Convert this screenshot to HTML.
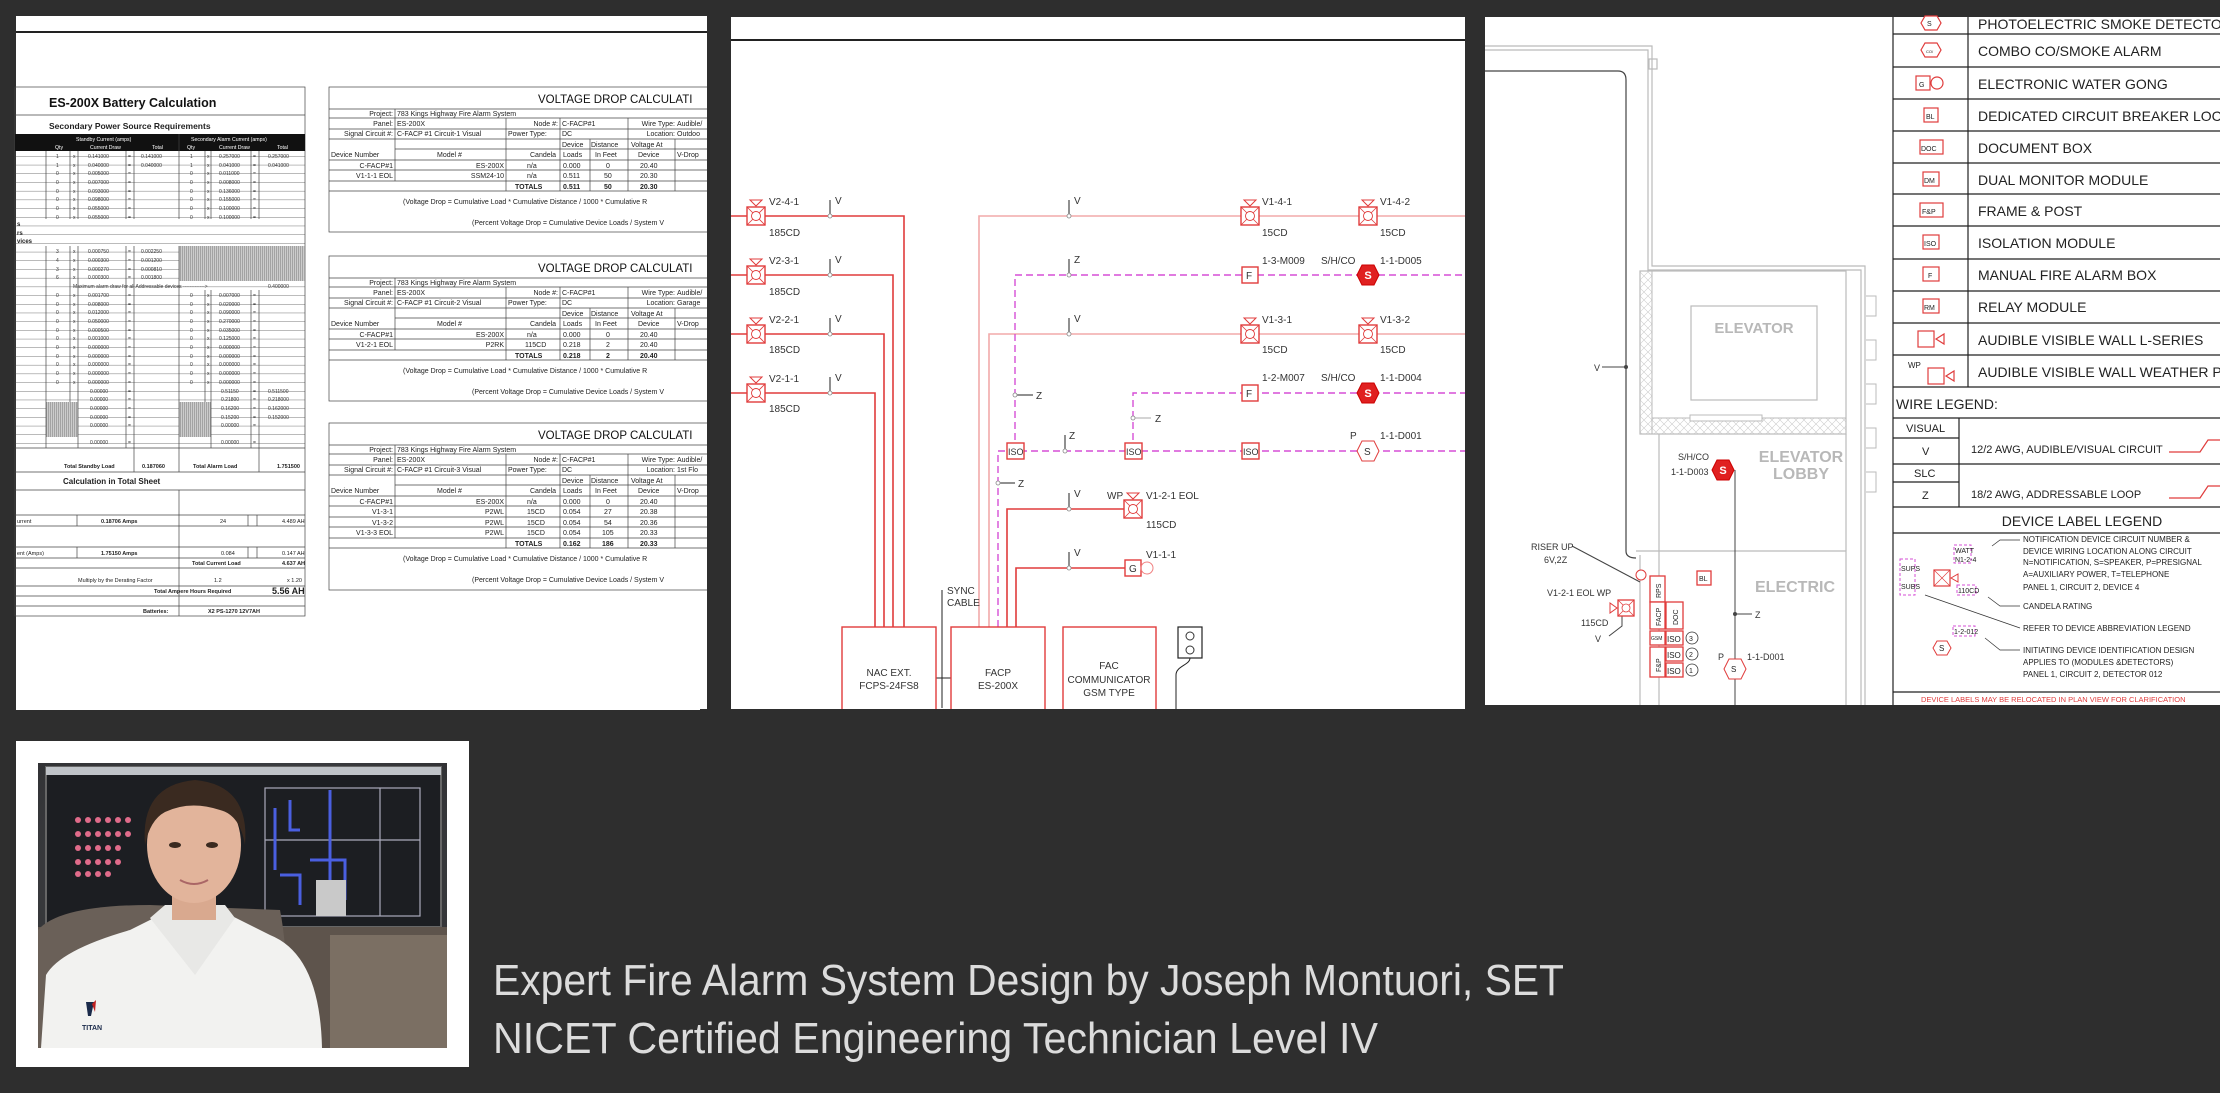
<!DOCTYPE html>
<html><head><meta charset="utf-8"><style>
html,body{margin:0;padding:0;background:#2e2e2e;}
svg{display:block;font-family:"Liberation Sans",sans-serif;}
</style></head><body>
<svg width="2220" height="1093" viewBox="0 0 2220 1093" xmlns="http://www.w3.org/2000/svg">
<defs>
<symbol id="horn" overflow="visible">
 <rect x="-9" y="-9" width="18" height="18" fill="#fff" stroke="#e03c3c" stroke-width="1.4"/>
 <line x1="-9" y1="-9" x2="9" y2="9" stroke="#e03c3c" stroke-width="0.8"/>
 <line x1="9" y1="-9" x2="-9" y2="9" stroke="#e03c3c" stroke-width="0.8"/>
 <circle r="4.5" fill="#fff" stroke="#e03c3c" stroke-width="0.9"/>
 <path d="M-6,-16 L6,-16 L0,-10 Z" fill="none" stroke="#e03c3c" stroke-width="1"/>
</symbol>
<symbol id="smk" overflow="visible">
 <path d="M-11,0 L-6,-10 L6,-10 L11,0 L6,10 L-6,10 Z" fill="#e02020" stroke="#c00" stroke-width="1"/>
 <text x="0" y="4" font-size="11" fill="#fff" text-anchor="middle" font-weight="bold">S</text>
</symbol>
<pattern id="hatch" width="2" height="4" patternUnits="userSpaceOnUse"><rect width="2" height="4" fill="#ccc"/><line x1="0.5" y1="0" x2="0.5" y2="4" stroke="#888" stroke-width="0.6"/></pattern>
<pattern id="xh" width="8" height="8" patternUnits="userSpaceOnUse"><path d="M0,0 L8,8 M8,0 L0,8" stroke="#ccc" stroke-width="0.6"/></pattern>
<pattern id="rows" width="300" height="8.7" patternUnits="userSpaceOnUse"><line x1="0" y1="8.7" x2="300" y2="8.7" stroke="#444" stroke-width="0.7"/></pattern>
<radialGradient id="bg" cx="0.5" cy="0.4" r="0.8"><stop offset="0" stop-color="#4a4d52"/><stop offset="1" stop-color="#2b2b2d"/></radialGradient>
</defs>

<rect width="2220" height="1093" fill="#2e2e2e"/>

<!-- ================= PANEL 1 ================= -->
<rect x="16" y="16" width="691" height="694" fill="#fff"/>
<line x1="16" y1="32" x2="707" y2="32" stroke="#222" stroke-width="2"/>

<g stroke="#444" stroke-width="0.7" fill="none">
 <rect x="15" y="87" width="290" height="529"/>
 <line x1="15" y1="115" x2="305" y2="115"/>
</g>
<text x="49" y="107" font-size="12.5" font-weight="bold" fill="#111">ES-200X Battery Calculation</text>
<text x="49" y="129" font-size="8.5" font-weight="bold" fill="#222">Secondary Power Source Requirements</text>
<rect x="15" y="134" width="290" height="17" fill="#111"/>
<g font-size="5.2" fill="#fff">
 <text x="76" y="141">Standby Current (amps)</text><text x="191" y="141">Secondary Alarm Current (amps)</text>
 <text x="55" y="149">Qty</text><text x="90" y="149">Current Draw</text><text x="152" y="149">Total</text>
 <text x="187" y="149">Qty</text><text x="219" y="149">Current Draw</text><text x="277" y="149">Total</text>
</g>
<rect x="15" y="151" width="290" height="297" fill="url(#rows)"/>
<rect x="179" y="246" width="126" height="35" fill="url(#hatch)"/>
<rect x="46" y="402" width="32" height="35" fill="url(#hatch)"/>
<rect x="179" y="402" width="32" height="35" fill="url(#hatch)"/>
<g stroke="#444" stroke-width="0.7">
 <line x1="46" y1="151" x2="46" y2="219"/><line x1="70" y1="151" x2="70" y2="219"/><line x1="78" y1="151" x2="78" y2="219"/><line x1="126" y1="151" x2="126" y2="219"/><line x1="134" y1="151" x2="134" y2="219"/><line x1="179" y1="134" x2="179" y2="219"/><line x1="205" y1="151" x2="205" y2="219"/><line x1="211" y1="151" x2="211" y2="219"/><line x1="251" y1="151" x2="251" y2="219"/><line x1="259" y1="151" x2="259" y2="219"/>
 <line x1="46" y1="246" x2="46" y2="448"/><line x1="70" y1="246" x2="70" y2="402"/><line x1="78" y1="246" x2="78" y2="448"/><line x1="126" y1="246" x2="126" y2="448"/><line x1="134" y1="246" x2="134" y2="448"/><line x1="179" y1="246" x2="179" y2="448"/><line x1="205" y1="290" x2="205" y2="402"/><line x1="211" y1="290" x2="211" y2="448"/><line x1="251" y1="290" x2="251" y2="448"/><line x1="259" y1="290" x2="259" y2="448"/>
</g>
<g font-size="5" fill="#333">
 <text x="56" y="158">1</text><text x="73" y="158">x</text><text x="88" y="158">0.141000</text><text x="128" y="158">=</text><text x="141" y="158">0.141000</text><text x="190" y="158">1</text><text x="207" y="158">x</text><text x="219" y="158">0.257000</text><text x="253" y="158">=</text><text x="268" y="158">0.257000</text>
 <text x="56" y="167">1</text><text x="73" y="167">x</text><text x="88" y="167">0.040000</text><text x="128" y="167">=</text><text x="141" y="167">0.040000</text><text x="190" y="167">1</text><text x="207" y="167">x</text><text x="219" y="167">0.041000</text><text x="253" y="167">=</text><text x="268" y="167">0.041000</text>
 <text x="56" y="175">0</text><text x="73" y="175">x</text><text x="88" y="175">0.005000</text><text x="128" y="175">=</text><text x="190" y="175">0</text><text x="207" y="175">x</text><text x="219" y="175">0.011000</text><text x="253" y="175">=</text>
 <text x="56" y="184">0</text><text x="73" y="184">x</text><text x="88" y="184">0.007000</text><text x="128" y="184">=</text><text x="190" y="184">0</text><text x="207" y="184">x</text><text x="219" y="184">0.008000</text><text x="253" y="184">=</text>
 <text x="56" y="193">0</text><text x="73" y="193">x</text><text x="88" y="193">0.093000</text><text x="128" y="193">=</text><text x="190" y="193">0</text><text x="207" y="193">x</text><text x="219" y="193">0.136000</text><text x="253" y="193">=</text>
 <text x="56" y="201">0</text><text x="73" y="201">x</text><text x="88" y="201">0.098000</text><text x="128" y="201">=</text><text x="190" y="201">0</text><text x="207" y="201">x</text><text x="219" y="201">0.155000</text><text x="253" y="201">=</text>
 <text x="56" y="210">0</text><text x="73" y="210">x</text><text x="88" y="210">0.055000</text><text x="128" y="210">=</text><text x="190" y="210">0</text><text x="207" y="210">x</text><text x="219" y="210">0.100000</text><text x="253" y="210">=</text>
 <text x="56" y="219">0</text><text x="73" y="219">x</text><text x="88" y="219">0.055000</text><text x="128" y="219">=</text><text x="190" y="219">0</text><text x="207" y="219">x</text><text x="219" y="219">0.100000</text><text x="253" y="219">=</text>
 <text x="56" y="253">3</text><text x="73" y="253">x</text><text x="88" y="253">0.000750</text><text x="128" y="253">=</text><text x="141" y="253">0.002250</text>
 <text x="56" y="262">4</text><text x="73" y="262">x</text><text x="88" y="262">0.000300</text><text x="128" y="262">=</text><text x="141" y="262">0.001200</text>
 <text x="56" y="271">3</text><text x="73" y="271">x</text><text x="88" y="271">0.000270</text><text x="128" y="271">=</text><text x="141" y="271">0.000810</text>
 <text x="56" y="279">6</text><text x="73" y="279">x</text><text x="88" y="279">0.000300</text><text x="128" y="279">=</text><text x="141" y="279">0.001800</text>
 <text x="73" y="288">Maximum alarm draw for all Addressable devices -------------&gt;</text><text x="268" y="288">0.400000</text>
</g>
<g font-size="5" fill="#333">
 <text x="56" y="297">0</text><text x="73" y="297">x</text><text x="88" y="297">0.001700</text><text x="128" y="297">=</text><text x="190" y="297">0</text><text x="207" y="297">x</text><text x="219" y="297">0.007000</text><text x="253" y="297">=</text>
 <text x="56" y="306">0</text><text x="73" y="306">x</text><text x="88" y="306">0.008000</text><text x="128" y="306">=</text><text x="190" y="306">0</text><text x="207" y="306">x</text><text x="219" y="306">0.020000</text><text x="253" y="306">=</text>
 <text x="56" y="314">0</text><text x="73" y="314">x</text><text x="88" y="314">0.012000</text><text x="128" y="314">=</text><text x="190" y="314">0</text><text x="207" y="314">x</text><text x="219" y="314">0.090000</text><text x="253" y="314">=</text>
 <text x="56" y="323">0</text><text x="73" y="323">x</text><text x="88" y="323">0.050000</text><text x="128" y="323">=</text><text x="190" y="323">0</text><text x="207" y="323">x</text><text x="219" y="323">0.270000</text><text x="253" y="323">=</text>
 <text x="56" y="332">0</text><text x="73" y="332">x</text><text x="88" y="332">0.000500</text><text x="128" y="332">=</text><text x="190" y="332">0</text><text x="207" y="332">x</text><text x="219" y="332">0.035000</text><text x="253" y="332">=</text>
 <text x="56" y="340">0</text><text x="73" y="340">x</text><text x="88" y="340">0.001000</text><text x="128" y="340">=</text><text x="190" y="340">0</text><text x="207" y="340">x</text><text x="219" y="340">0.125000</text><text x="253" y="340">=</text>
 <text x="56" y="349">0</text><text x="73" y="349">x</text><text x="88" y="349">0.000000</text><text x="128" y="349">=</text><text x="190" y="349">0</text><text x="207" y="349">x</text><text x="219" y="349">0.000000</text><text x="253" y="349">=</text>
 <text x="56" y="358">0</text><text x="73" y="358">x</text><text x="88" y="358">0.000000</text><text x="128" y="358">=</text><text x="190" y="358">0</text><text x="207" y="358">x</text><text x="219" y="358">0.000000</text><text x="253" y="358">=</text>
 <text x="56" y="366">0</text><text x="73" y="366">x</text><text x="88" y="366">0.000000</text><text x="128" y="366">=</text><text x="190" y="366">0</text><text x="207" y="366">x</text><text x="219" y="366">0.000000</text><text x="253" y="366">=</text>
 <text x="56" y="375">0</text><text x="73" y="375">x</text><text x="88" y="375">0.000000</text><text x="128" y="375">=</text><text x="190" y="375">0</text><text x="207" y="375">x</text><text x="219" y="375">0.000000</text><text x="253" y="375">=</text>
 <text x="56" y="384">0</text><text x="73" y="384">x</text><text x="88" y="384">0.000000</text><text x="128" y="384">=</text><text x="190" y="384">0</text><text x="207" y="384">x</text><text x="219" y="384">0.000000</text><text x="253" y="384">=</text>
 <text x="90" y="393">0.00000</text><text x="128" y="393">=</text><text x="221" y="393">0.51150</text><text x="253" y="393">=</text><text x="268" y="393">0.511500</text>
 <text x="90" y="401">0.00000</text><text x="128" y="401">=</text><text x="221" y="401">0.21800</text><text x="253" y="401">=</text><text x="268" y="401">0.218000</text>
 <text x="90" y="410">0.00000</text><text x="128" y="410">=</text><text x="221" y="410">0.16200</text><text x="253" y="410">=</text><text x="268" y="410">0.162000</text>
 <text x="90" y="419">0.00000</text><text x="128" y="419">=</text><text x="221" y="419">0.15200</text><text x="253" y="419">=</text><text x="268" y="419">0.152000</text>
 <text x="90" y="427">0.00000</text><text x="128" y="427">=</text><text x="221" y="427">0.00000</text><text x="253" y="427">=</text>
 <text x="90" y="444">0.00000</text><text x="128" y="444">=</text><text x="221" y="444">0.00000</text><text x="253" y="444">=</text>
</g>
<g font-size="6" font-weight="bold" fill="#222">
 <text x="17" y="226">s</text><text x="17" y="235">rs</text><text x="17" y="243">vices</text>
</g>
<g stroke="#444" stroke-width="0.7">
 <line x1="15" y1="448" x2="305" y2="448"/><line x1="15" y1="472" x2="305" y2="472"/>
 <line x1="134" y1="448" x2="134" y2="472"/><line x1="179" y1="448" x2="179" y2="472"/><line x1="259" y1="448" x2="259" y2="472"/>
 <line x1="15" y1="490" x2="305" y2="490"/><line x1="179" y1="490" x2="179" y2="616"/>
 <line x1="15" y1="515" x2="305" y2="515"/><line x1="15" y1="526" x2="305" y2="526"/>
 <line x1="77" y1="515" x2="77" y2="526"/><line x1="248" y1="515" x2="248" y2="526"/><line x1="257" y1="515" x2="257" y2="526"/>
 <line x1="15" y1="547" x2="305" y2="547"/><line x1="15" y1="558" x2="305" y2="558"/>
 <line x1="77" y1="547" x2="77" y2="558"/><line x1="248" y1="547" x2="248" y2="558"/><line x1="257" y1="547" x2="257" y2="558"/>
 <line x1="15" y1="568" x2="305" y2="568"/><line x1="15" y1="586" x2="305" y2="586"/><line x1="15" y1="596" x2="305" y2="596"/><line x1="15" y1="606" x2="305" y2="606"/>
</g>
<g font-size="5.5" fill="#222" font-weight="bold">
 <text x="64" y="468">Total Standby Load</text><text x="142" y="468">0.187060</text><text x="193" y="468">Total Alarm Load</text><text x="277" y="468">1.751500</text>
 <text x="101" y="523">0.18706 Amps</text><text x="220" y="523" font-weight="normal">24</text><text x="282" y="523" font-weight="normal">4.489 AH</text>
 <text x="17" y="523" font-weight="normal">urrent</text><text x="17" y="555" font-weight="normal">ent (Amps)</text>
 <text x="101" y="555">1.75150 Amps</text><text x="221" y="555" font-weight="normal">0.084</text><text x="282" y="555" font-weight="normal">0.147 AH</text>
 <text x="192" y="565">Total Current Load</text><text x="282" y="565">4.637 AH</text>
 <text x="78" y="582" font-weight="normal">Multiply by the Derating Factor</text><text x="214" y="582" font-weight="normal">1.2</text><text x="287" y="582" font-weight="normal">x 1.20</text>
 <text x="154" y="593">Total Ampere Hours Required</text><text x="272" y="594" font-size="9">5.56 AH</text>
 <text x="143" y="613">Batteries:</text><text x="208" y="613">X2 PS-1270 12V7AH</text>
</g>
<text x="63" y="484" font-size="8" font-weight="bold" fill="#222">Calculation in Total Sheet</text>

<g>
 <g stroke="#444" stroke-width="0.7" fill="none">
  <rect x="329" y="87" width="390" height="145"/>
  <line x1="329" y1="109" x2="707" y2="109"/><line x1="329" y1="118" x2="707" y2="118"/><line x1="329" y1="129" x2="707" y2="129"/><line x1="329" y1="139" x2="707" y2="139"/><line x1="395" y1="149" x2="707" y2="149"/><line x1="329" y1="160" x2="707" y2="160"/><line x1="329" y1="170" x2="707" y2="170"/><line x1="329" y1="181" x2="707" y2="181"/><line x1="329" y1="191" x2="707" y2="191"/>
  <line x1="395" y1="109" x2="395" y2="181"/><line x1="506" y1="118" x2="506" y2="191"/><line x1="560" y1="118" x2="560" y2="191"/><line x1="590" y1="139" x2="590" y2="191"/><line x1="628" y1="118" x2="628" y2="191"/><line x1="675" y1="139" x2="675" y2="191"/>
 </g>
 <text x="538" y="103" font-size="11.5" fill="#111">VOLTAGE DROP CALCULATI</text>
 <g font-size="7" fill="#222">
  <text x="393" y="116" text-anchor="end">Project:</text><text x="397" y="116">783 Kings Highway Fire Alarm System</text>
  <text x="393" y="126" text-anchor="end">Panel:</text><text x="397" y="126">ES-200X</text><text x="558" y="126" text-anchor="end">Node #:</text><text x="562" y="126">C-FACP#1</text><text x="675" y="126" text-anchor="end">Wire Type:</text><text x="677" y="126">Audible/</text>
  <text x="393" y="136" text-anchor="end">Signal Circuit #:</text><text x="397" y="136">C-FACP #1 Circuit-1 Visual</text><text x="508" y="136">Power Type:</text><text x="562" y="136">DC</text><text x="675" y="136" text-anchor="end">Location:</text><text x="677" y="136">Outdoo</text>
  <text x="562" y="147">Device</text><text x="591" y="147">Distance</text><text x="631" y="147">Voltage At</text>
  <text x="331" y="157">Device Number</text><text x="437" y="157">Model #</text><text x="530" y="157">Candela</text><text x="563" y="157">Loads</text><text x="595" y="157">In Feet</text><text x="638" y="157">Device</text><text x="677" y="157">V-Drop</text>
  <text x="393" y="168" text-anchor="end">C-FACP#1</text><text x="504" y="168" text-anchor="end">ES-200X</text><text x="527" y="168">n/a</text><text x="563" y="168">0.000</text><text x="606" y="168">0</text><text x="640" y="168">20.40</text>
  <text x="393" y="178" text-anchor="end">V1-1-1 EOL</text><text x="504" y="178" text-anchor="end">SSM24-10</text><text x="527" y="178">n/a</text><text x="563" y="178">0.511</text><text x="604" y="178">50</text><text x="640" y="178">20.30</text>
  <g font-weight="bold"><text x="515" y="189">TOTALS</text><text x="563" y="189">0.511</text><text x="604" y="189">50</text><text x="640" y="189">20.30</text></g>
  <text x="403" y="204">(Voltage Drop = Cumulative Load * Cumulative Distance / 1000 * Cumulative R</text>
  <text x="472" y="225">(Percent Voltage Drop = Cumulative Device Loads / System V</text>
 </g>
</g>
<g transform="translate(0,169)">
 <g stroke="#444" stroke-width="0.7" fill="none">
  <rect x="329" y="87" width="390" height="145"/>
  <line x1="329" y1="109" x2="707" y2="109"/><line x1="329" y1="118" x2="707" y2="118"/><line x1="329" y1="129" x2="707" y2="129"/><line x1="329" y1="139" x2="707" y2="139"/><line x1="395" y1="149" x2="707" y2="149"/><line x1="329" y1="160" x2="707" y2="160"/><line x1="329" y1="170" x2="707" y2="170"/><line x1="329" y1="181" x2="707" y2="181"/><line x1="329" y1="191" x2="707" y2="191"/>
  <line x1="395" y1="109" x2="395" y2="181"/><line x1="506" y1="118" x2="506" y2="191"/><line x1="560" y1="118" x2="560" y2="191"/><line x1="590" y1="139" x2="590" y2="191"/><line x1="628" y1="118" x2="628" y2="191"/><line x1="675" y1="139" x2="675" y2="191"/>
 </g>
 <text x="538" y="103" font-size="11.5" fill="#111">VOLTAGE DROP CALCULATI</text>
 <g font-size="7" fill="#222">
  <text x="393" y="116" text-anchor="end">Project:</text><text x="397" y="116">783 Kings Highway Fire Alarm System</text>
  <text x="393" y="126" text-anchor="end">Panel:</text><text x="397" y="126">ES-200X</text><text x="558" y="126" text-anchor="end">Node #:</text><text x="562" y="126">C-FACP#1</text><text x="675" y="126" text-anchor="end">Wire Type:</text><text x="677" y="126">Audible/</text>
  <text x="393" y="136" text-anchor="end">Signal Circuit #:</text><text x="397" y="136">C-FACP #1 Circuit-2 Visual</text><text x="508" y="136">Power Type:</text><text x="562" y="136">DC</text><text x="675" y="136" text-anchor="end">Location:</text><text x="677" y="136">Garage</text>
  <text x="562" y="147">Device</text><text x="591" y="147">Distance</text><text x="631" y="147">Voltage At</text>
  <text x="331" y="157">Device Number</text><text x="437" y="157">Model #</text><text x="530" y="157">Candela</text><text x="563" y="157">Loads</text><text x="595" y="157">In Feet</text><text x="638" y="157">Device</text><text x="677" y="157">V-Drop</text>
  <text x="393" y="168" text-anchor="end">C-FACP#1</text><text x="504" y="168" text-anchor="end">ES-200X</text><text x="527" y="168">n/a</text><text x="563" y="168">0.000</text><text x="606" y="168">0</text><text x="640" y="168">20.40</text>
  <text x="393" y="178" text-anchor="end">V1-2-1 EOL</text><text x="504" y="178" text-anchor="end">P2RK</text><text x="525" y="178">115CD</text><text x="563" y="178">0.218</text><text x="606" y="178">2</text><text x="640" y="178">20.40</text>
  <g font-weight="bold"><text x="515" y="189">TOTALS</text><text x="563" y="189">0.218</text><text x="606" y="189">2</text><text x="640" y="189">20.40</text></g>
  <text x="403" y="204">(Voltage Drop = Cumulative Load * Cumulative Distance / 1000 * Cumulative R</text>
  <text x="472" y="225">(Percent Voltage Drop = Cumulative Device Loads / System V</text>
 </g>
</g>
<g transform="translate(0,336)">
 <g stroke="#444" stroke-width="0.7" fill="none">
  <rect x="329" y="87" width="390" height="167"/>
  <line x1="329" y1="109" x2="707" y2="109"/><line x1="329" y1="118" x2="707" y2="118"/><line x1="329" y1="129" x2="707" y2="129"/><line x1="329" y1="139" x2="707" y2="139"/><line x1="395" y1="149" x2="707" y2="149"/><line x1="329" y1="160" x2="707" y2="160"/><line x1="329" y1="170" x2="707" y2="170"/><line x1="329" y1="181" x2="707" y2="181"/><line x1="329" y1="191" x2="707" y2="191"/><line x1="329" y1="202" x2="707" y2="202"/><line x1="329" y1="212" x2="707" y2="212"/>
  <line x1="395" y1="109" x2="395" y2="202"/><line x1="506" y1="118" x2="506" y2="212"/><line x1="560" y1="118" x2="560" y2="212"/><line x1="590" y1="139" x2="590" y2="212"/><line x1="628" y1="118" x2="628" y2="212"/><line x1="675" y1="139" x2="675" y2="212"/>
 </g>
 <text x="538" y="103" font-size="11.5" fill="#111">VOLTAGE DROP CALCULATI</text>
 <g font-size="7" fill="#222">
  <text x="393" y="116" text-anchor="end">Project:</text><text x="397" y="116">783 Kings Highway Fire Alarm System</text>
  <text x="393" y="126" text-anchor="end">Panel:</text><text x="397" y="126">ES-200X</text><text x="558" y="126" text-anchor="end">Node #:</text><text x="562" y="126">C-FACP#1</text><text x="675" y="126" text-anchor="end">Wire Type:</text><text x="677" y="126">Audible/</text>
  <text x="393" y="136" text-anchor="end">Signal Circuit #:</text><text x="397" y="136">C-FACP #1 Circuit-3 Visual</text><text x="508" y="136">Power Type:</text><text x="562" y="136">DC</text><text x="675" y="136" text-anchor="end">Location:</text><text x="677" y="136">1st Flo</text>
  <text x="562" y="147">Device</text><text x="591" y="147">Distance</text><text x="631" y="147">Voltage At</text>
  <text x="331" y="157">Device Number</text><text x="437" y="157">Model #</text><text x="530" y="157">Candela</text><text x="563" y="157">Loads</text><text x="595" y="157">In Feet</text><text x="638" y="157">Device</text><text x="677" y="157">V-Drop</text>
  <text x="393" y="168" text-anchor="end">C-FACP#1</text><text x="504" y="168" text-anchor="end">ES-200X</text><text x="527" y="168">n/a</text><text x="563" y="168">0.000</text><text x="606" y="168">0</text><text x="640" y="168">20.40</text>
  <text x="393" y="178" text-anchor="end">V1-3-1</text><text x="504" y="178" text-anchor="end">P2WL</text><text x="527" y="178">15CD</text><text x="563" y="178">0.054</text><text x="604" y="178">27</text><text x="640" y="178">20.38</text>
  <text x="393" y="189" text-anchor="end">V1-3-2</text><text x="504" y="189" text-anchor="end">P2WL</text><text x="527" y="189">15CD</text><text x="563" y="189">0.054</text><text x="604" y="189">54</text><text x="640" y="189">20.36</text>
  <text x="393" y="199" text-anchor="end">V1-3-3 EOL</text><text x="504" y="199" text-anchor="end">P2WL</text><text x="527" y="199">15CD</text><text x="563" y="199">0.054</text><text x="602" y="199">105</text><text x="640" y="199">20.33</text>
  <g font-weight="bold"><text x="515" y="210">TOTALS</text><text x="563" y="210">0.162</text><text x="602" y="210">186</text><text x="640" y="210">20.33</text></g>
  <text x="403" y="225">(Voltage Drop = Cumulative Load * Cumulative Distance / 1000 * Cumulative R</text>
  <text x="472" y="246">(Percent Voltage Drop = Cumulative Device Loads / System V</text>
 </g>
</g>
<rect x="707" y="16" width="25" height="700" fill="#2e2e2e"/>

<!-- ================= PANEL 2 ================= -->
<rect x="731" y="17" width="734" height="692" fill="#fff"/>
<line x1="731" y1="40" x2="1465" y2="40" stroke="#222" stroke-width="2"/>
<g fill="none" stroke-width="1.6">
 <path d="M731,216 H904 V627" stroke="#e03c3c"/>
 <path d="M731,275 H893 V627" stroke="#e03c3c"/>
 <path d="M731,334 H884 V627" stroke="#e03c3c"/>
 <path d="M731,393 H875 V627" stroke="#e03c3c"/>
 <path d="M979,627 V216 H1465" stroke="#f2aaaa"/>
 <path d="M989,627 V334 H1465" stroke="#f2aaaa"/>
 <path d="M1007,627 V509 H1125" stroke="#e03c3c"/>
 <path d="M1016,627 V568 H1125" stroke="#e03c3c"/>
</g>
<g fill="none" stroke="#d64fd6" stroke-width="1.4" stroke-dasharray="7,4">
 <path d="M1015,451 V275 H1465"/>
 <path d="M1133,451 V393 H1465"/>
 <path d="M998,627 V451 H1465"/>
</g>
<g stroke="#222" stroke-width="1">
 <line x1="830" y1="200" x2="830" y2="216"/><line x1="830" y1="259" x2="830" y2="275"/><line x1="830" y1="318" x2="830" y2="334"/><line x1="830" y1="377" x2="830" y2="393"/>
 <line x1="1069" y1="200" x2="1069" y2="216"/><line x1="1069" y1="259" x2="1069" y2="275"/><line x1="1069" y1="318" x2="1069" y2="334"/>
 <line x1="1065" y1="435" x2="1065" y2="451"/><line x1="1069" y1="493" x2="1069" y2="509"/><line x1="1069" y1="552" x2="1069" y2="568"/>
 <line x1="1015" y1="395" x2="1033" y2="395"/><line x1="998" y1="483" x2="1015" y2="483"/>
 <line x1="942" y1="590" x2="942" y2="708"/><line x1="936" y1="678" x2="951" y2="678"/>
</g>
<line x1="1133" y1="418" x2="1151" y2="418" stroke="#aaa" stroke-width="1"/>
<g fill="#fff" stroke="#888" stroke-width="0.8">
 <circle cx="830" cy="216" r="2"/><circle cx="830" cy="275" r="2"/><circle cx="830" cy="334" r="2"/><circle cx="830" cy="393" r="2"/>
 <circle cx="1069" cy="216" r="2"/><circle cx="1069" cy="275" r="2"/><circle cx="1069" cy="334" r="2"/><circle cx="1065" cy="451" r="2"/><circle cx="1069" cy="509" r="2"/><circle cx="1069" cy="568" r="2"/>
 <circle cx="1015" cy="395" r="2"/><circle cx="1133" cy="418" r="2"/><circle cx="998" cy="483" r="2"/>
</g>
<use href="#horn" x="756" y="216"/><use href="#horn" x="756" y="275"/><use href="#horn" x="756" y="334"/><use href="#horn" x="756" y="393"/>
<use href="#horn" x="1250" y="216"/><use href="#horn" x="1368" y="216"/><use href="#horn" x="1250" y="334"/><use href="#horn" x="1368" y="334"/><use href="#horn" x="1133" y="509"/>
<use href="#smk" x="1368" y="275"/><use href="#smk" x="1368" y="393"/>
<g fill="#fff" stroke="#e03c3c" stroke-width="1.4">
 <rect x="1242" y="267" width="16" height="16"/><rect x="1242" y="385" width="16" height="16"/>
 <rect x="1007" y="443" width="17" height="16"/><rect x="1125" y="443" width="17" height="16"/><rect x="1242" y="443" width="17" height="16"/>
 <rect x="1125" y="560" width="16" height="16"/>
</g>
<circle cx="1147" cy="568" r="6" fill="none" stroke="#f08080" stroke-width="1"/>
<path d="M1357,451 L1362,441 L1374,441 L1379,451 L1374,461 L1362,461 Z" fill="#fff" stroke="#e03c3c" stroke-width="1"/>
<g font-size="10" fill="#333">
 <text x="1246" y="279">F</text><text x="1246" y="397">F</text>
 <text x="1008" y="455" font-size="9">ISO</text><text x="1126" y="455" font-size="9">ISO</text><text x="1243" y="455" font-size="9">ISO</text>
 <text x="1129" y="572">G</text><text x="1364" y="455">S</text>
</g>
<g font-size="10" fill="#333">
 <text x="769" y="205">V2-4-1</text><text x="769" y="236">185CD</text>
 <text x="769" y="264">V2-3-1</text><text x="769" y="295">185CD</text>
 <text x="769" y="323">V2-2-1</text><text x="769" y="353">185CD</text>
 <text x="769" y="382">V2-1-1</text><text x="769" y="412">185CD</text>
 <text x="835" y="204">V</text><text x="835" y="263">V</text><text x="835" y="322">V</text><text x="835" y="381">V</text>
 <text x="1074" y="204">V</text><text x="1074" y="263">Z</text><text x="1074" y="322">V</text><text x="1069" y="439">Z</text><text x="1074" y="497">V</text><text x="1074" y="556">V</text>
 <text x="1036" y="399">Z</text><text x="1155" y="422">Z</text><text x="1018" y="487">Z</text>
 <text x="1262" y="205">V1-4-1</text><text x="1262" y="236">15CD</text><text x="1380" y="205">V1-4-2</text><text x="1380" y="236">15CD</text>
 <text x="1262" y="264">1-3-M009</text><text x="1321" y="264">S/H/CO</text><text x="1380" y="264">1-1-D005</text>
 <text x="1262" y="323">V1-3-1</text><text x="1262" y="353">15CD</text><text x="1380" y="323">V1-3-2</text><text x="1380" y="353">15CD</text>
 <text x="1262" y="381">1-2-M007</text><text x="1321" y="381">S/H/CO</text><text x="1380" y="381">1-1-D004</text>
 <text x="1350" y="439">P</text><text x="1380" y="439">1-1-D001</text>
 <text x="1107" y="499">WP</text><text x="1146" y="499">V1-2-1 EOL</text><text x="1146" y="528">115CD</text>
 <text x="1146" y="558">V1-1-1</text>
 <text x="947" y="594">SYNC</text><text x="947" y="606">CABLE</text>
</g>
<g fill="#fff" stroke="#e03c3c" stroke-width="1.4">
 <rect x="842" y="627" width="94" height="90"/><rect x="951" y="627" width="94" height="90"/><rect x="1063" y="627" width="93" height="90"/>
</g>
<g font-size="10" fill="#333" text-anchor="middle">
 <text x="889" y="676">NAC EXT.</text><text x="889" y="689">FCPS-24FS8</text>
 <text x="998" y="676">FACP</text><text x="998" y="689">ES-200X</text>
 <text x="1109" y="669">FAC</text><text x="1109" y="683">COMMUNICATOR</text><text x="1109" y="696">GSM TYPE</text>
</g>
<rect x="1178" y="627" width="24" height="31" fill="#fff" stroke="#222" stroke-width="1.2"/>
<circle cx="1190" cy="636" r="4" fill="none" stroke="#333"/><circle cx="1190" cy="650" r="4" fill="none" stroke="#333"/>
<path d="M1190,658 C1190,665 1176,666 1176,675 V709" fill="none" stroke="#222" stroke-width="1"/>
<rect x="1465" y="16" width="20" height="700" fill="#2e2e2e"/>
<rect x="700" y="709" width="800" height="10" fill="#2e2e2e"/>

<!-- ================= PANEL 3 ================= -->
<rect x="1485" y="17" width="735" height="688" fill="#fff"/>
<g fill="none" stroke="#bbb" stroke-width="1.2">
 <path d="M1485,46 H1652 V266 H1865 V705"/>
 <path d="M1485,50 H1648 V270 H1861 V705"/>
 <rect x="1640" y="271" width="206" height="163"/>
 <rect x="1691" y="306" width="126" height="94"/>
 <path d="M1659,434 V705"/><path d="M1636,551 H1846 V705"/><path d="M1640,555 V705"/>
 <path d="M1846,434 V551"/>
 <rect x="1649" y="59" width="8" height="10"/>
</g>
<rect x="1640" y="271" width="12" height="163" fill="url(#xh)" stroke="#bbb"/>
<rect x="1652" y="418" width="194" height="16" fill="url(#xh)" stroke="#bbb"/>
<rect x="1690" y="415" width="72" height="6" fill="#fff" stroke="#bbb"/>
<g stroke="#bbb" fill="none" stroke-width="1">
 <path d="M1866,296 h10 v20 h-10 M1866,340 h10 v20 h-10 M1866,384 h10 v20 h-10 M1866,428 h10 v20 h-10 M1866,472 h10 v20 h-10"/>
</g>
<path d="M1485,71 H1618 Q1626,71 1626,80 V551 Q1626,558 1636,558" fill="none" stroke="#444" stroke-width="1.2"/>
<g font-weight="bold" fill="#b8b8b8" text-anchor="middle">
 <text x="1754" y="333" font-size="15">ELEVATOR</text>
 <text x="1801" y="462" font-size="16">ELEVATOR</text><text x="1801" y="479" font-size="16">LOBBY</text>
 <text x="1795" y="592" font-size="16">ELECTRIC</text>
</g>
<g stroke="#444" stroke-width="1" fill="none">
 <line x1="1735" y1="470" x2="1735" y2="705"/><line x1="1735" y1="614" x2="1752" y2="614"/>
 <line x1="1602" y1="367" x2="1626" y2="367"/>
 <path d="M1572,546 L1640,582"/><path d="M1609,636 L1622,626 L1622,612"/>
</g>
<circle cx="1626" cy="367" r="2" fill="#444"/><circle cx="1735" cy="614" r="2" fill="#444"/>
<use href="#smk" x="1723" y="470"/>
<circle cx="1641" cy="575" r="5" fill="#fff" stroke="#e03c3c"/>
<g transform="translate(1626,608)"><rect x="-8" y="-8" width="16" height="16" fill="#fff" stroke="#e03c3c" stroke-width="1.3"/><line x1="-8" y1="-8" x2="8" y2="8" stroke="#e03c3c" stroke-width="0.7"/><line x1="8" y1="-8" x2="-8" y2="8" stroke="#e03c3c" stroke-width="0.7"/><circle r="4" fill="#fff" stroke="#e03c3c" stroke-width="0.8"/><path d="M-9,0 L-16,-5 L-16,5 Z" fill="none" stroke="#e03c3c"/></g>
<g fill="#fff" stroke="#e03c3c" stroke-width="1.3">
 <rect x="1650" y="576" width="15" height="26"/><rect x="1650" y="602" width="15" height="27"/><rect x="1666" y="602" width="17" height="27"/>
 <rect x="1650" y="631" width="15" height="14"/><rect x="1666" y="631" width="17" height="14"/><rect x="1666" y="647" width="17" height="14"/><rect x="1666" y="663" width="17" height="14"/>
 <rect x="1650" y="647" width="15" height="30"/><rect x="1697" y="571" width="14" height="14"/>
</g>
<g fill="none" stroke="#333" stroke-width="0.8"><circle cx="1692" cy="638" r="6"/><circle cx="1692" cy="654" r="6"/><circle cx="1692" cy="670" r="6"/></g>
<path d="M1724,669 L1729,659 L1741,659 L1746,669 L1741,679 L1729,679 Z" fill="#fff" stroke="#e03c3c"/>
<g font-size="8" fill="#222">
 <text x="1667" y="642">ISO</text><text x="1667" y="658">ISO</text><text x="1667" y="674">ISO</text><text x="1651" y="640" font-size="5">GSM</text>
 <text x="1689" y="641" font-size="7">3</text><text x="1689" y="657" font-size="7">2</text><text x="1689" y="673" font-size="7">1</text>
 <text x="1699" y="581" font-size="7">BL</text><text x="1731" y="672">S</text>
 <text x="0" y="0" transform="translate(1661,598) rotate(-90)" font-size="7">RPS</text>
 <text x="0" y="0" transform="translate(1661,626) rotate(-90)" font-size="7">FACP</text>
 <text x="0" y="0" transform="translate(1678,625) rotate(-90)" font-size="7">DOC</text>
 <text x="0" y="0" transform="translate(1661,672) rotate(-90)" font-size="7">F&amp;P</text>
</g>
<g font-size="9" fill="#333">
 <text x="1678" y="460">S/H/CO</text><text x="1671" y="475">1-1-D003</text>
 <text x="1531" y="550">RISER UP</text><text x="1544" y="563">6V,2Z</text>
 <text x="1547" y="596">V1-2-1 EOL WP</text><text x="1581" y="626">115CD</text><text x="1595" y="642">V</text>
 <text x="1594" y="371">V</text><text x="1755" y="618">Z</text>
 <text x="1718" y="660">P</text><text x="1747" y="660">1-1-D001</text>
</g>

<rect x="1893" y="17" width="327" height="688" fill="#fff"/>
<g stroke="#222" stroke-width="1.2" fill="none">
 <line x1="1893" y1="17" x2="1893" y2="705"/>
 <line x1="1968" y1="17" x2="1968" y2="387"/>
 <line x1="1893" y1="34" x2="2220" y2="34"/><line x1="1893" y1="67" x2="2220" y2="67"/><line x1="1893" y1="99" x2="2220" y2="99"/><line x1="1893" y1="131" x2="2220" y2="131"/><line x1="1893" y1="163" x2="2220" y2="163"/><line x1="1893" y1="194" x2="2220" y2="194"/><line x1="1893" y1="226" x2="2220" y2="226"/><line x1="1893" y1="259" x2="2220" y2="259"/><line x1="1893" y1="291" x2="2220" y2="291"/><line x1="1893" y1="323" x2="2220" y2="323"/><line x1="1893" y1="355" x2="2220" y2="355"/><line x1="1893" y1="387" x2="2220" y2="387"/>
 <line x1="1893" y1="418" x2="2220" y2="418"/><line x1="1893" y1="438" x2="1959" y2="438"/><line x1="1893" y1="464" x2="2220" y2="464"/><line x1="1893" y1="482" x2="1959" y2="482"/><line x1="1893" y1="507" x2="2220" y2="507"/><line x1="1893" y1="533" x2="2220" y2="533"/><line x1="1893" y1="692" x2="2220" y2="692"/>
 <line x1="1959" y1="418" x2="1959" y2="507"/>
</g>
<g font-size="14" fill="#222">
 <text x="1978" y="29">PHOTOELECTRIC SMOKE DETECTOR</text>
 <text x="1978" y="56">COMBO CO/SMOKE ALARM</text>
 <text x="1978" y="89">ELECTRONIC WATER GONG</text>
 <text x="1978" y="121">DEDICATED CIRCUIT BREAKER LOCK</text>
 <text x="1978" y="153">DOCUMENT BOX</text>
 <text x="1978" y="185">DUAL MONITOR MODULE</text>
 <text x="1978" y="216">FRAME &amp; POST</text>
 <text x="1978" y="248">ISOLATION MODULE</text>
 <text x="1978" y="280">MANUAL FIRE ALARM BOX</text>
 <text x="1978" y="312">RELAY MODULE</text>
 <text x="1978" y="345">AUDIBLE VISIBLE WALL L-SERIES</text>
 <text x="1978" y="377">AUDIBLE VISIBLE WALL WEATHER PR</text>
 <text x="1896" y="409">WIRE LEGEND:</text>
 <text x="2082" y="526" text-anchor="middle">DEVICE LABEL LEGEND</text>
</g>
<g fill="#fff" stroke="#e03c3c" stroke-width="1.2">
 <path d="M1921,23 L1925,16 L1937,16 L1941,23 L1937,30 L1925,30 Z"/>
 <path d="M1921,50 L1925,43 L1937,43 L1941,50 L1937,57 L1925,57 Z"/>
 <rect x="1916" y="76" width="14" height="14"/><circle cx="1937" cy="83" r="6"/>
 <rect x="1924" y="108" width="14" height="14"/><rect x="1920" y="140" width="23" height="14"/><rect x="1923" y="172" width="16" height="14"/><rect x="1920" y="203" width="23" height="14"/>
 <rect x="1923" y="235" width="16" height="14"/><rect x="1923" y="267" width="16" height="14"/><rect x="1923" y="299" width="16" height="14"/>
 <rect x="1918" y="331" width="16" height="16"/><path d="M1936,339 L1944,334 L1944,344 Z"/>
 <rect x="1928" y="368" width="16" height="16"/><path d="M1946,376 L1954,371 L1954,381 Z"/>
</g>
<g font-size="7" fill="#222">
 <text x="1927" y="26">S</text><text x="1926" y="53" font-size="4">CO/</text><text x="1919" y="87">G</text><text x="1926" y="119">BL</text><text x="1921" y="151">DOC</text><text x="1924" y="183">DM</text><text x="1922" y="214">F&amp;P</text><text x="1924" y="246">ISO</text><text x="1928" y="278">F</text><text x="1924" y="310">RM</text>
 <text x="1908" y="368" font-size="8">WP</text>
</g>
<g font-size="11" fill="#222">
 <text x="1906" y="432">VISUAL</text><text x="1922" y="455">V</text><text x="1914" y="477">SLC</text><text x="1922" y="499">Z</text>
 <text x="1971" y="453">12/2 AWG, AUDIBLE/VISUAL CIRCUIT</text>
 <text x="1971" y="498">18/2 AWG, ADDRESSABLE LOOP</text>
</g>
<path d="M2169,452 H2200 L2208,440 H2220 M2169,498 H2200 L2208,486 H2220" fill="none" stroke="#e03c3c" stroke-width="1.2"/>
<g font-size="8" fill="#222">
 <text x="2023" y="542">NOTIFICATION DEVICE CIRCUIT NUMBER &amp;</text>
 <text x="2023" y="554">DEVICE WIRING LOCATION ALONG CIRCUIT</text>
 <text x="2023" y="565">N=NOTIFICATION, S=SPEAKER, P=PRESIGNAL</text>
 <text x="2023" y="577">A=AUXILIARY POWER, T=TELEPHONE</text>
 <text x="2023" y="590">PANEL 1, CIRCUIT 2, DEVICE 4</text>
 <text x="2023" y="609">CANDELA RATING</text>
 <text x="2023" y="631">REFER TO DEVICE ABBREVIATION LEGEND</text>
 <text x="2023" y="653">INITIATING DEVICE IDENTIFICATION DESIGN</text>
 <text x="2023" y="665">APPLIES TO (MODULES &amp;DETECTORS)</text>
 <text x="2023" y="677">PANEL 1, CIRCUIT 2, DETECTOR 012</text>
</g>
<g fill="none" stroke="#d64fd6" stroke-width="1" stroke-dasharray="3,2">
 <rect x="1954" y="545" width="17" height="18"/><rect x="1900" y="559" width="15" height="36"/><rect x="1957" y="585" width="19" height="10"/><rect x="1953" y="626" width="22" height="10"/>
</g>
<g font-size="7" fill="#222"><text x="1955" y="553">WATT</text><text x="1955" y="562">N1-2-4</text><text x="1901" y="571">SUPS</text><text x="1901" y="589">SUBS</text><text x="1958" y="593">110CD</text><text x="1954" y="634">1-2-012</text></g>
<g transform="translate(1942,578)"><rect x="-8" y="-8" width="16" height="16" fill="#fff" stroke="#e03c3c" stroke-width="1.2"/><line x1="-8" y1="-8" x2="8" y2="8" stroke="#e03c3c" stroke-width="0.6"/><line x1="8" y1="-8" x2="-8" y2="8" stroke="#e03c3c" stroke-width="0.6"/><path d="M9,0 L16,-4 L16,4 Z" fill="none" stroke="#e03c3c"/></g>
<path d="M1933,648 L1937,641 L1947,641 L1951,648 L1947,655 L1937,655 Z" fill="#fff" stroke="#e03c3c"/>
<text x="1939" y="651" font-size="8" fill="#222">S</text>
<g stroke="#333" stroke-width="0.7" fill="none"><path d="M2020,540 H2000 L1992,546"/><path d="M2020,606 H2000 L1988,597"/><path d="M2020,628 L1925,595"/><path d="M2020,650 H2000 L1985,638"/></g>
<text x="1921" y="702" font-size="7.5" fill="#e03c3c">DEVICE LABELS MAY BE RELOCATED IN PLAN VIEW FOR CLARIFICATION</text>

<!-- ================= PHOTO ================= -->
<rect x="16" y="741" width="453" height="326" fill="#fff"/>
<rect x="38" y="763" width="409" height="285" fill="url(#bg)"/>
<rect x="46" y="767" width="395" height="160" fill="#1c1e22" stroke="#666" stroke-width="2"/>
<rect x="46" y="767" width="395" height="8" fill="#bfc3c8"/>
<g fill="#e06b8a">
 <circle cx="78" cy="820" r="3"/><circle cx="88" cy="820" r="3"/><circle cx="98" cy="820" r="3"/><circle cx="108" cy="820" r="3"/><circle cx="118" cy="820" r="3"/><circle cx="128" cy="820" r="3"/>
 <circle cx="78" cy="834" r="3"/><circle cx="88" cy="834" r="3"/><circle cx="98" cy="834" r="3"/><circle cx="108" cy="834" r="3"/><circle cx="118" cy="834" r="3"/><circle cx="128" cy="834" r="3"/>
 <circle cx="78" cy="848" r="3"/><circle cx="88" cy="848" r="3"/><circle cx="98" cy="848" r="3"/><circle cx="108" cy="848" r="3"/><circle cx="118" cy="848" r="3"/>
 <circle cx="78" cy="862" r="3"/><circle cx="88" cy="862" r="3"/><circle cx="98" cy="862" r="3"/><circle cx="108" cy="862" r="3"/><circle cx="118" cy="862" r="3"/>
 <circle cx="78" cy="874" r="3"/><circle cx="88" cy="874" r="3"/><circle cx="98" cy="874" r="3"/><circle cx="108" cy="874" r="3"/>
</g>
<g fill="none" stroke="#aab" stroke-width="1.2">
 <rect x="265" y="788" width="155" height="128"/>
 <line x1="265" y1="840" x2="420" y2="840"/><line x1="380" y1="788" x2="380" y2="916"/>
</g>
<g fill="none" stroke="#4a5fe0" stroke-width="3">
 <path d="M275,808 V870 M290,800 V830 H300 M330,790 V900 M310,860 H345 V900 M280,875 H300 V905"/>
</g>
<rect x="316" y="880" width="30" height="36" fill="#c9c9c9"/>
<rect x="38" y="927" width="409" height="121" fill="#5e544c"/>
<rect x="330" y="935" width="117" height="113" fill="#7b6f63"/>
<path d="M38,930 Q60,905 150,905 L280,910 Q290,960 285,1048 H38 Z" fill="#6a6058"/>
<path d="M41,1048 L46,975 Q60,950 130,930 L160,915 L230,915 L270,935 Q320,955 322,1048 Z" fill="#f2f2f0"/>
<path d="M150,918 L195,975 L235,918 L225,905 L165,905 Z" fill="#e8e8e6"/>
<rect x="172" y="880" width="44" height="40" fill="#d9a98f"/>
<ellipse cx="194" cy="845" rx="47" ry="58" fill="#e2b49b"/>
<path d="M145,845 Q140,785 195,780 Q250,785 245,845 Q240,815 220,810 Q190,800 165,812 Q150,820 145,845 Z" fill="#3a2a20"/>
<ellipse cx="175" cy="845" rx="6" ry="3" fill="#3a2a20"/><ellipse cx="212" cy="845" rx="6" ry="3" fill="#3a2a20"/>
<path d="M180,880 Q194,888 208,880" fill="none" stroke="#a66" stroke-width="2"/>
<text x="82" y="1030" font-size="7" font-weight="bold" fill="#1a2a4a">TITAN</text>
<path d="M86,1002 h8 l-3,14 h-3 Z" fill="#1a2a4a"/><path d="M92,1004 l4,-4 l-1,12 Z" fill="#c02020"/>

<g fill="#dcdcdc">
 <text x="493" y="995" font-size="44" textLength="1071" lengthAdjust="spacingAndGlyphs">Expert Fire Alarm System Design by Joseph Montuori, SET</text>
 <text x="493" y="1053" font-size="44" textLength="885" lengthAdjust="spacingAndGlyphs">NICET Certified Engineering Technician Level IV</text>
</g>
</svg>
</body></html>
